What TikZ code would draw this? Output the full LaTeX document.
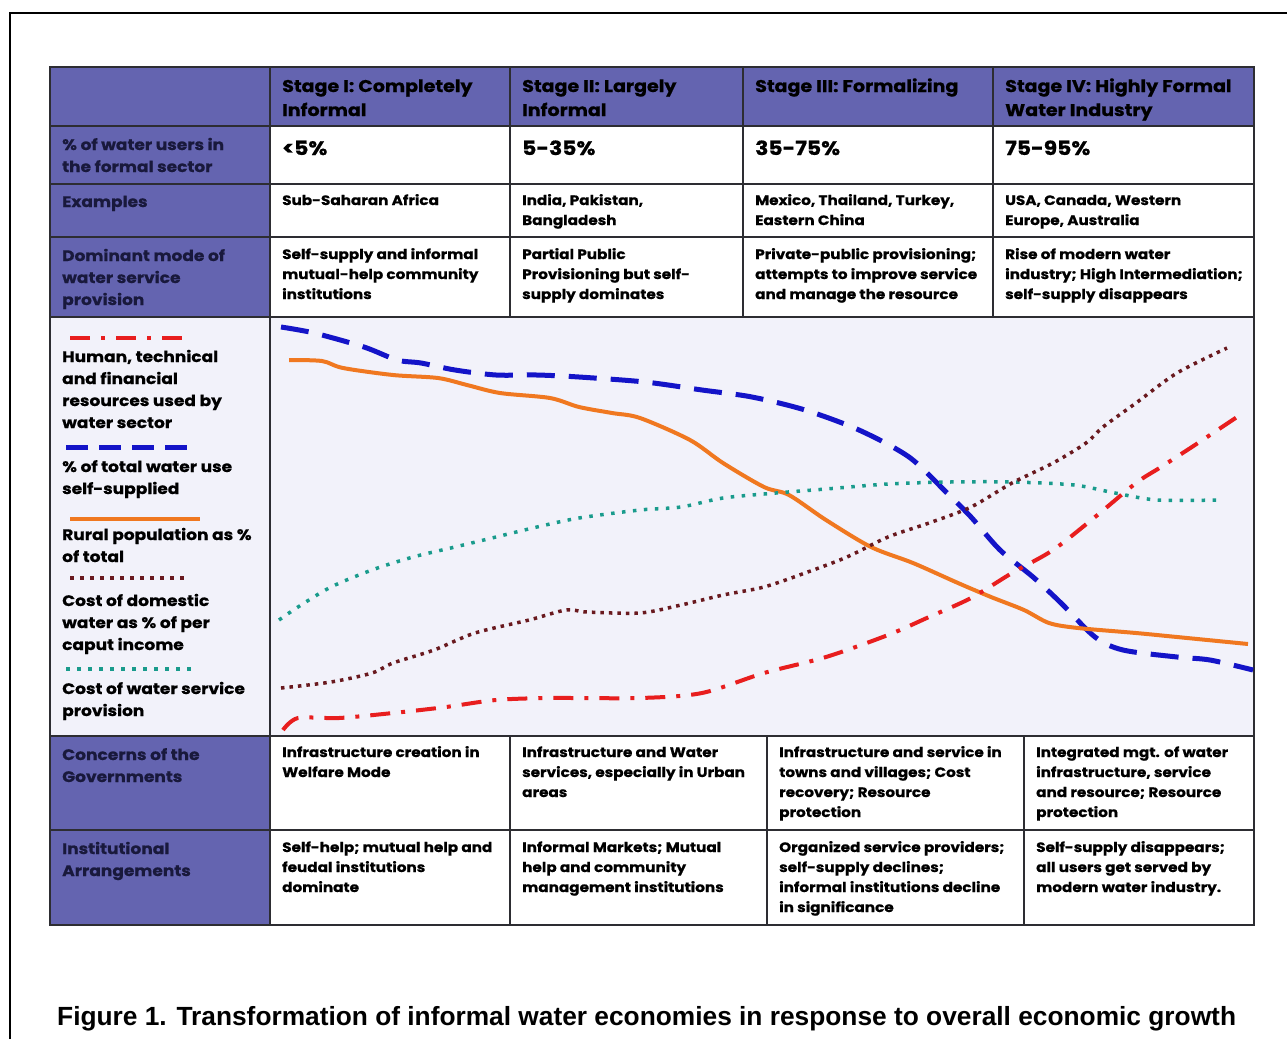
\documentclass[tikz,border=0pt]{standalone}
\usepackage{fontspec}
\setmainfont{Poppins}
\newfontfamily\gothic[FakeStretch=1.12, BoldFeatures={FakeBold=0.7}]{Poppins}
\newfontfamily\capfont{Liberation Sans}
\begin{document}
\begin{tikzpicture}[x=1pt,y=-1pt,
  grid/.style={draw=gridc, line width=1.8pt},
  hdrtxt/.style={anchor=base west, inner sep=0pt, align=left, text=black, font=\gothic\bfseries\fontsize{17}{24}\selectfont},
  lefttxt/.style={anchor=base west, inner sep=0pt, align=left, text=navy, font=\gothic\bfseries\fontsize{15.2}{22}\selectfont},
  celltxt/.style={anchor=base west, inner sep=0pt, align=left, text=black, font=\gothic\bfseries\fontsize{13.6}{20}\selectfont},
  bigtxt/.style={anchor=base west, inner sep=0pt, text=black, font=\gothic\bfseries\fontsize{19.5}{24}\selectfont},
  legtxt/.style={anchor=base west, inner sep=0pt, align=left, text=black, font=\gothic\bfseries\fontsize{15.2}{22}\selectfont},
  bluecurve/.style={draw=cblue, line width=5pt, dash pattern=on 28pt off 14pt},
  orangecurve/.style={draw=corange, line width=4pt},
  redcurve/.style={draw=cred, line width=4pt, dash pattern=on 20pt off 11pt on 4pt off 11pt},
  darkcurve/.style={draw=cdark, line width=3.5pt, dash pattern=on 3.5pt off 5pt},
  tealcurve/.style={draw=cteal, line width=3.5pt, dash pattern=on 3.5pt off 7.5pt},
]
\definecolor{hdr}{RGB}{100,100,176}
\definecolor{chartbg}{RGB}{242,242,250}
\definecolor{gridc}{RGB}{45,45,50}
\definecolor{navy}{RGB}{25,25,60}
\definecolor{cblue}{RGB}{20,20,200}
\definecolor{corange}{RGB}{240,120,32}
\definecolor{cred}{RGB}{232,30,30}
\definecolor{cdark}{RGB}{105,25,30}
\definecolor{cteal}{RGB}{25,155,140}

\useasboundingbox (0,0) rectangle (1287,1039);
\fill[white] (0,0) rectangle (1287,1039);

% outer frame (top and left)
\coordinate (fa) at (10,1039);
\coordinate (fb) at (10,13);
\coordinate (fc) at (1287,13);
\draw[black, line width=2pt] (fa) -- (fb) -- (fc);

% fills
\fill[hdr] (50,67) rectangle (270,317);
\fill[hdr] (270,67) rectangle (1254,126);
\fill[chartbg] (50,317) rectangle (1254,736);
\fill[hdr] (50,736) rectangle (270,925);

% grid
\draw[grid] (50,67) rectangle (1254,925);
\foreach \yy in {126,184,237,317,736,830} \draw[grid] (50,\yy) -- (1254,\yy);
\draw[grid] (270,67) -- (270,925);
\foreach \xx in {510,743,993} \draw[grid] (\xx,67) -- (\xx,317);
\foreach \xx in {510,767,1024} \draw[grid] (\xx,736) -- (\xx,925);

% header (anchor = baseline of last line)
\node[hdrtxt] (h1) at (282,116) {Stage I: Completely\\Informal};
\node[hdrtxt] (h2) at (522,116) {Stage II: Largely\\Informal};
\node[hdrtxt] (h3) at (755,92) {Stage III: Formalizing};
\node[hdrtxt] (h4) at (1005,116) {Stage IV: Highly Formal\\Water Industry};

% row: % users
\node[lefttxt] (l1) at (62,172) {\% of water users in\\the formal sector};
\node[bigtxt] (v1) at (282,155) {<5\%};
\node[bigtxt] (v2) at (522,155) {5-35\%};
\node[bigtxt] (v3) at (755,155) {35-75\%};
\node[bigtxt] (v4) at (1005,155) {75-95\%};

% row: examples
\node[lefttxt] (l2) at (62,207) {Examples};
\node[celltxt] (e1) at (282,205) {Sub-Saharan Africa};
\node[celltxt] (e2) at (522,225) {India, Pakistan,\\Bangladesh};
\node[celltxt] (e3) at (755,225) {Mexico, Thailand, Turkey,\\Eastern China};
\node[celltxt] (e4) at (1005,225) {USA, Canada, Western\\Europe, Australia};

% row: dominant mode
\node[lefttxt] (l3) at (62,305) {Dominant mode of\\water service\\provision};
\node[celltxt] (d1) at (282,299) {Self-supply and informal\\mutual-help community\\institutions};
\node[celltxt] (d2) at (522,299) {Partial Public\\Provisioning but self-\\supply dominates};
\node[celltxt] (d3) at (755,299) {Private-public provisioning;\\attempts to improve service\\and manage the resource};
\node[celltxt] (d4) at (1005,299) {Rise of modern water\\industry; High Intermediation;\\self-supply disappears};

% legend
\coordinate (ra) at (70,338); \coordinate (rb) at (192,338);
\draw[redcurve] (ra) -- (rb);
\node[legtxt] (g1) at (62,428) {Human, technical\\and financial\\resources used by\\water sector};
\coordinate (ba) at (66,447); \coordinate (bb) at (196,447);
\draw[bluecurve, dash pattern=on 22pt off 11pt] (ba) -- (bb);
\node[legtxt] (g2) at (62,494) {\% of total water use\\self-supplied};
\coordinate (oa) at (70,519); \coordinate (ob) at (200,519);
\draw[orangecurve] (oa) -- (ob);
\node[legtxt] (g3) at (62,562) {Rural population as \%\\of total};
\coordinate (da) at (70,578); \coordinate (db) at (186,578);
\draw[darkcurve, dash pattern=on 3.5pt off 6.5pt] (da) -- (db);
\node[legtxt] (g4) at (62,650) {Cost of domestic\\water as \% of per\\caput income};
\coordinate (ta) at (66,669); \coordinate (tb) at (192,669);
\draw[tealcurve] (ta) -- (tb);
\node[legtxt] (g5) at (62,716) {Cost of water service\\provision};

% curves
\draw[bluecurve] plot[smooth, tension=0.5] coordinates {(281,327) (314,333) (364,347) (397,360) (421,363) (455,370) (496,375) (537,375) (579,377) (645,382) (702,390) (752,397) (805,410) (859,430) (909,457) (946,492) (971,517) (1000,550) (1033,577) (1061,603) (1095,637) (1123,650) (1177,657) (1210,660) (1253,670)};
\draw[orangecurve] plot[smooth, tension=0.5] coordinates {(289,360) (322,361) (343,368) (393,375) (438,378) (467,385) (500,393) (550,398) (579,407) (612,413) (640,418) (690,440) (723,463) (764,487) (789,495) (826,520) (871,547) (913,563) (958,583) (991,597) (1024,610) (1049,623) (1078,628) (1136,633) (1177,637) (1248,644)};
\draw[tealcurve] plot[smooth, tension=0.5] coordinates {(279,620) (298,607) (331,587) (372,570) (413,557) (455,547) (496,537) (537,527) (579,518) (640,510) (681,507) (723,498) (776,493) (826,489) (888,484) (950,482) (1012,482) (1074,485) (1115,493) (1157,500) (1219,500)};
\draw[darkcurve] plot[smooth, tension=0.5] coordinates {(281,688) (331,682) (372,673) (393,663) (434,650) (475,633) (529,620) (566,610) (587,612) (640,613) (681,605) (723,595) (764,587) (805,573) (847,557) (888,537) (929,523) (971,507) (1012,483) (1053,463) (1086,443) (1103,427) (1136,403) (1177,373) (1227,348)};
\draw[redcurve] plot[smooth, tension=0.5] coordinates {(283,730) (298,718) (339,718) (393,713) (446,707) (496,700) (550,698) (640,698) (702,693) (764,673) (826,657) (888,635) (929,617) (971,598) (1012,573) (1053,550) (1095,517) (1136,483) (1161,467) (1198,443) (1243,413)};

% concerns
\node[lefttxt] (l4) at (62,782) {Concerns of the\\Governments};
\node[celltxt] (c1) at (282,777) {Infrastructure creation in\\Welfare Mode};
\node[celltxt] (c2) at (522,797) {Infrastructure and Water\\services, especially in Urban\\areas};
\node[celltxt] (c3) at (779,817) {Infrastructure and service in\\towns and villages; Cost\\recovery; Resource\\protection};
\node[celltxt] (c4) at (1036,817) {Integrated mgt. of water\\infrastructure, service\\and resource; Resource\\protection};

% institutional
\node[lefttxt] (l5) at (62,876) {Institutional\\Arrangements};
\node[celltxt] (i1) at (282,892) {Self-help; mutual help and\\feudal institutions\\dominate};
\node[celltxt] (i2) at (522,892) {Informal Markets; Mutual\\help and community\\management institutions};
\node[celltxt] (i3) at (779,912) {Organized service providers;\\self-supply declines;\\informal institutions decline\\in significance};
\node[celltxt] (i4) at (1036,892) {Self-supply disappears;\\all users get served by\\modern water industry.};

% caption
\node[anchor=base west, inner sep=0pt, font=\capfont\bfseries\fontsize{26.3}{30}\selectfont] (cap) at (57,1025) {Figure 1. Transformation of informal water economies in response to overall economic growth};
\end{tikzpicture}
\end{document}
